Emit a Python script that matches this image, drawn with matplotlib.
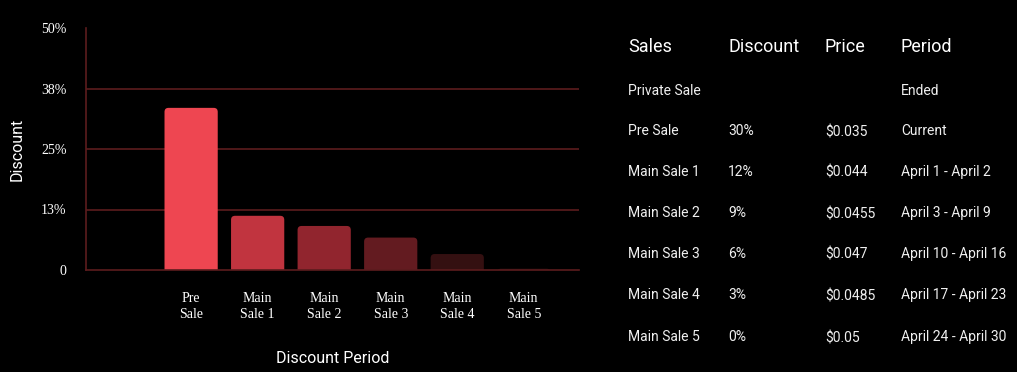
import matplotlib.pyplot as plt
from matplotlib.patches import FancyBboxPatch

# chart data
periods = ["", "Pre\nSale", "Main\nSale 1", "Main\nSale 2", "Main\nSale 3", "Main\nSale 4", "Main\nSale 5"]
discount = [0, 33.5, 11.2, 9.1, 6.7, 3.3, 0.3]
bar_colors = ["#000000", "#ee4651", "#c1343f", "#91252e", "#631b20", "#341011", "#1c0a0a"]
ytick_vals = [0, 12.5, 25, 37.5, 50]
ytick_labels = ["0", "13%", "25%", "38%", "50%"]

# table data
headers = ["Sales", "Discount", "Price", "Period"]
sales = ["Private Sale", "Pre Sale", "Main Sale 1", "Main Sale 2", "Main Sale 3", "Main Sale 4", "Main Sale 5"]
disc_txt = ["", "30%", "12%", "9%", "6%", "3%", "0%"]
prices = ["", "\\$0.035", "\\$0.044", "\\$0.0455", "\\$0.047", "\\$0.0485", "\\$0.05"]
period_txt = ["Ended", "Current", "April 1 - April 2", "April 3 - April 9",
              "April 10 - April 16", "April 17 - April 23", "April 24 - April 30"]

W, H = 1017, 372
fig = plt.figure(figsize=(W / 100, H / 100), dpi=100, facecolor="black")
ax = fig.add_axes([86 / W, 1 - 270 / H, (579 - 86) / W, (270 - 28) / H])
ax.set_facecolor("black")

grid_c = "#5c1c1e"
ax.set_xlim(-0.58, 6.83)
ax.set_ylim(0, 50)

# rounded bars, bottom corners pushed below the axis and clipped
xpx = (579 - 86) / (6.83 + 0.58)
ypx = (270 - 28) / 50
aspect = (1 / ypx) / (1 / xpx)
w = 0.8
for i, v in enumerate(discount):
    if i == 0:
        continue
    p = FancyBboxPatch((i - w / 2, -2), w, v + 2,
                       boxstyle="round,pad=0,rounding_size=0.06",
                       mutation_aspect=aspect, fc=bar_colors[i], ec="none", zorder=3)
    ax.add_patch(p)

for y in ytick_vals[1:-1]:
    ax.axhline(y, color=grid_c, lw=1.2, zorder=1)

for s in ["top", "right"]:
    ax.spines[s].set_visible(False)
for s in ["left", "bottom"]:
    ax.spines[s].set_color(grid_c)
    ax.spines[s].set_linewidth(1.2)
ax.spines["bottom"].set_zorder(4)

ax.set_yticks(ytick_vals)
ax.set_yticklabels(ytick_labels, family="Liberation Serif", fontsize=10, color="white")
ax.set_xticks(range(len(periods)))
ax.set_xticklabels(periods, family="Liberation Serif", fontsize=10, color="white", linespacing=1.3)
ax.tick_params(axis="y", length=0, pad=14)
ax.tick_params(axis="x", length=0, pad=16)

ax.set_ylabel("Discount", family="Roboto", fontsize=11.5, color="white")
ax.yaxis.set_label_coords(-0.125, 0.5)
ax.set_xlabel("Discount Period", family="Roboto", fontsize=11.5, color="white")
ax.xaxis.set_label_coords(0.5, -0.335)

# table on the right
col_x = [628, 728, 825, 901]
for x, h in zip(col_x, headers):
    fig.text(x / W, 1 - 52 / H, h, family="Roboto", fontsize=13, color="white", va="baseline")

row_y = [90, 130, 171, 212, 253, 294, 336]
for j, y in enumerate(row_y):
    for k, (x, t) in enumerate(zip(col_x, [sales[j], disc_txt[j], prices[j], period_txt[j]])):
        # the $ glyph has a deeper descent, which lifts the baseline a bit
        dy = 1 if k == 2 else 0
        fig.text(x / W, 1 - (y + 5 + dy) / H, t, family="Roboto", fontsize=10,
                 color="#f0f0f0", va="baseline")

fig.savefig("out.png", dpi=100, facecolor="black")
